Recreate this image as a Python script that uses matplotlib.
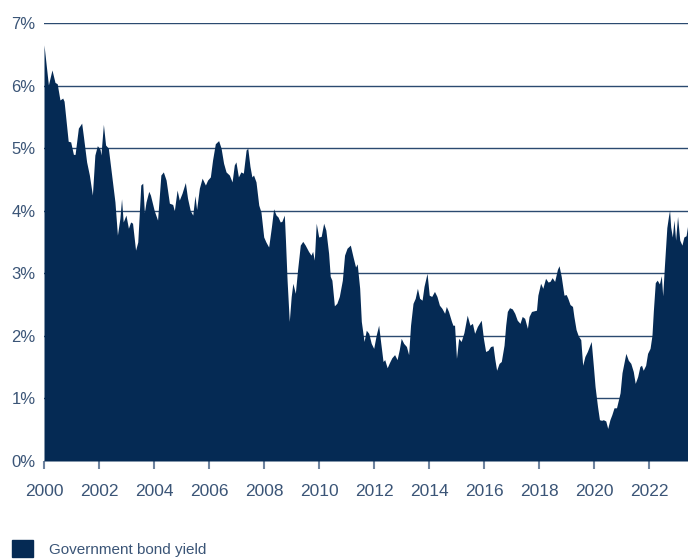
import matplotlib
matplotlib.use('Agg')
import matplotlib.pyplot as plt
from matplotlib.patches import Patch

# decimal year / yield (%)
years = [
    2000.00, 2000.16, 2000.29, 2000.40, 2000.48, 2000.58, 2000.68, 2000.73, 2000.88, 2000.97,
    2001.07, 2001.13, 2001.25, 2001.37, 2001.43, 2001.55, 2001.65, 2001.76, 2001.85, 2001.94,
    2002.04, 2002.07, 2002.16, 2002.24, 2002.34, 2002.46, 2002.58, 2002.67, 2002.76, 2002.82,
    2002.88, 2002.98, 2003.07, 2003.15, 2003.22, 2003.33, 2003.41, 2003.52, 2003.59, 2003.65,
    2003.71, 2003.81, 2003.87, 2004.01, 2004.13, 2004.25, 2004.34, 2004.44, 2004.56, 2004.68,
    2004.74, 2004.84, 2004.92, 2005.02, 2005.14, 2005.22, 2005.32, 2005.41, 2005.49, 2005.55,
    2005.65, 2005.75, 2005.87, 2005.95, 2006.05, 2006.13, 2006.23, 2006.35, 2006.44, 2006.53,
    2006.62, 2006.74, 2006.84, 2006.92, 2006.98, 2007.07, 2007.16, 2007.25, 2007.35, 2007.41,
    2007.49, 2007.56, 2007.62, 2007.71, 2007.81, 2007.89, 2007.99, 2008.07, 2008.17, 2008.27,
    2008.35, 2008.44, 2008.51, 2008.59, 2008.65, 2008.74, 2008.78, 2008.84, 2008.92, 2008.99,
    2009.05, 2009.14, 2009.22, 2009.32, 2009.41, 2009.50, 2009.62, 2009.71, 2009.77, 2009.83,
    2009.90, 2009.99, 2010.08, 2010.17, 2010.25, 2010.35, 2010.41, 2010.47, 2010.56, 2010.65,
    2010.74, 2010.85, 2010.93, 2011.02, 2011.14, 2011.24, 2011.33, 2011.39, 2011.48, 2011.54,
    2011.64, 2011.72, 2011.81, 2011.90, 2011.99, 2012.08, 2012.17, 2012.24, 2012.33, 2012.39,
    2012.48, 2012.56, 2012.65, 2012.75, 2012.84, 2012.92, 2012.99, 2013.08, 2013.18, 2013.26,
    2013.33, 2013.42, 2013.50, 2013.58, 2013.66, 2013.75, 2013.82, 2013.93, 2014.01, 2014.10,
    2014.20, 2014.29, 2014.38, 2014.47, 2014.57, 2014.63, 2014.71, 2014.82, 2014.87, 2014.93,
    2015.00, 2015.08, 2015.17, 2015.27, 2015.39, 2015.49, 2015.58, 2015.66, 2015.76, 2015.90,
    2015.98, 2016.06, 2016.15, 2016.24, 2016.33, 2016.39, 2016.46, 2016.55, 2016.63, 2016.73,
    2016.79, 2016.85, 2016.93, 2017.03, 2017.12, 2017.21, 2017.31, 2017.39, 2017.48, 2017.58,
    2017.64, 2017.73, 2017.82, 2017.91, 2017.96, 2018.06, 2018.14, 2018.24, 2018.33, 2018.40,
    2018.48, 2018.57, 2018.67, 2018.73, 2018.81, 2018.91, 2018.99, 2019.05, 2019.13, 2019.22,
    2019.27, 2019.35, 2019.43, 2019.52, 2019.59, 2019.67, 2019.76, 2019.83, 2019.90, 2019.98,
    2020.04, 2020.13, 2020.20, 2020.28, 2020.34, 2020.43, 2020.50, 2020.58, 2020.65, 2020.73,
    2020.82, 2020.88, 2020.95, 2021.02, 2021.16, 2021.25, 2021.34, 2021.43, 2021.50, 2021.59,
    2021.67, 2021.73, 2021.79, 2021.88, 2021.95, 2022.04, 2022.11, 2022.16, 2022.23, 2022.30,
    2022.38, 2022.45, 2022.50, 2022.56, 2022.65, 2022.71, 2022.75, 2022.79, 2022.85, 2022.91,
    2022.97, 2023.04, 2023.12, 2023.20, 2023.27, 2023.35, 2023.42,
]
yields = [
    6.65, 6.01, 6.25, 6.05, 6.03, 5.77, 5.80, 5.75, 5.11, 5.10,
    4.90, 4.90, 5.32, 5.40, 5.20, 4.78, 4.57, 4.25, 4.89, 5.04,
    4.98, 4.89, 5.38, 5.05, 5.00, 4.57, 4.14, 3.61, 3.88, 4.19,
    3.82, 3.93, 3.72, 3.82, 3.80, 3.37, 3.50, 4.41, 4.44, 3.97,
    4.14, 4.31, 4.25, 4.00, 3.85, 4.57, 4.62, 4.49, 4.12, 4.10,
    4.00, 4.33, 4.17, 4.28, 4.45, 4.20, 4.00, 3.93, 4.24, 4.02,
    4.36, 4.52, 4.41, 4.49, 4.54, 4.81, 5.07, 5.12, 5.00, 4.76,
    4.62, 4.57, 4.46, 4.73, 4.78, 4.54, 4.62, 4.60, 4.97, 5.00,
    4.71, 4.54, 4.57, 4.46, 4.09, 3.98, 3.58, 3.50, 3.42, 3.74,
    4.03, 3.93, 3.90, 3.82, 3.83, 3.93, 3.54, 2.89, 2.23, 2.63,
    2.84, 2.68, 3.05, 3.45, 3.51, 3.45, 3.35, 3.29, 3.35, 3.21,
    3.80, 3.58, 3.59, 3.80, 3.69, 3.32, 2.95, 2.89, 2.48, 2.52,
    2.63, 2.89, 3.29, 3.40, 3.45, 3.26, 3.10, 3.15, 2.76, 2.23,
    1.91, 2.09, 2.04, 1.88, 1.80, 2.01, 2.17, 1.91, 1.59, 1.62,
    1.49, 1.57, 1.65, 1.70, 1.62, 1.78, 1.96, 1.88, 1.83, 1.70,
    2.17, 2.52, 2.60, 2.76, 2.60, 2.57, 2.79, 3.00, 2.65, 2.63,
    2.71, 2.63, 2.49, 2.44, 2.36, 2.47, 2.39, 2.23, 2.17, 2.17,
    1.64, 1.96, 1.91, 2.05, 2.33, 2.17, 2.20, 2.04, 2.15, 2.25,
    1.96, 1.75, 1.77, 1.83, 1.84, 1.64, 1.45, 1.56, 1.59, 1.85,
    2.17, 2.39, 2.45, 2.43, 2.36, 2.25, 2.20, 2.31, 2.28, 2.12,
    2.31, 2.39, 2.40, 2.41, 2.65, 2.84, 2.76, 2.92, 2.86, 2.87,
    2.93, 2.87, 3.06, 3.12, 2.95, 2.65, 2.66, 2.60, 2.50, 2.47,
    2.31, 2.10, 2.00, 1.94, 1.53, 1.67, 1.75, 1.83, 1.91, 1.51,
    1.19, 0.87, 0.66, 0.65, 0.66, 0.64, 0.52, 0.66, 0.74, 0.85,
    0.85, 0.96, 1.09, 1.41, 1.72, 1.61, 1.56, 1.43, 1.24, 1.35,
    1.51, 1.53, 1.45, 1.53, 1.72, 1.80, 2.01, 2.40, 2.85, 2.89,
    2.83, 2.96, 2.64, 3.10, 3.73, 3.91, 4.01, 3.74, 3.58, 3.85,
    3.53, 3.91, 3.53, 3.45, 3.58, 3.60, 3.80,
]
x_ticks = list(range(2000, 2023, 2))
y_ticks = list(range(0, 8))
series_name = 'Government bond yield'

navy = '#052a54'
text_col = '#3b5577'

plt.rcParams['font.family'] = ['Liberation Sans', 'DejaVu Sans']

fig = plt.figure(figsize=(6.88, 5.59), dpi=100)
ax = fig.add_axes([44 / 688, 1 - 461 / 559, 644 / 688, 438 / 559])

ax.fill_between(years, yields, 0, color=navy, lw=0, zorder=2)

ax.set_xlim(2000, years[-1])
ax.set_ylim(0, 7)
ax.set_yticks(y_ticks)
ax.set_yticklabels([f'{v}%' for v in y_ticks])
ax.set_xticks(x_ticks)
ax.set_xticklabels([str(v) for v in x_ticks])

ax.yaxis.grid(True, color='#2b4a70', lw=1.0, zorder=1)
ax.set_axisbelow(True)
for s in ax.spines.values():
    s.set_visible(False)

ax.tick_params(axis='y', length=0, pad=6, labelsize=12, labelcolor=text_col)
ax.tick_params(axis='x', length=6, width=1.5, color='#6f84a0', pad=10.5,
               labelsize=12.5, labelcolor=text_col)

fig.legend(handles=[Patch(color=navy)], labels=[series_name],
           loc='center left', bbox_to_anchor=(12 / 688, 1 - 548.5 / 559),
           frameon=False, borderpad=0, borderaxespad=0,
           handlelength=1.4, handleheight=1.4, handletextpad=1.0,
           fontsize=11, labelcolor=text_col)

fig.savefig('out.png', dpi=100)
